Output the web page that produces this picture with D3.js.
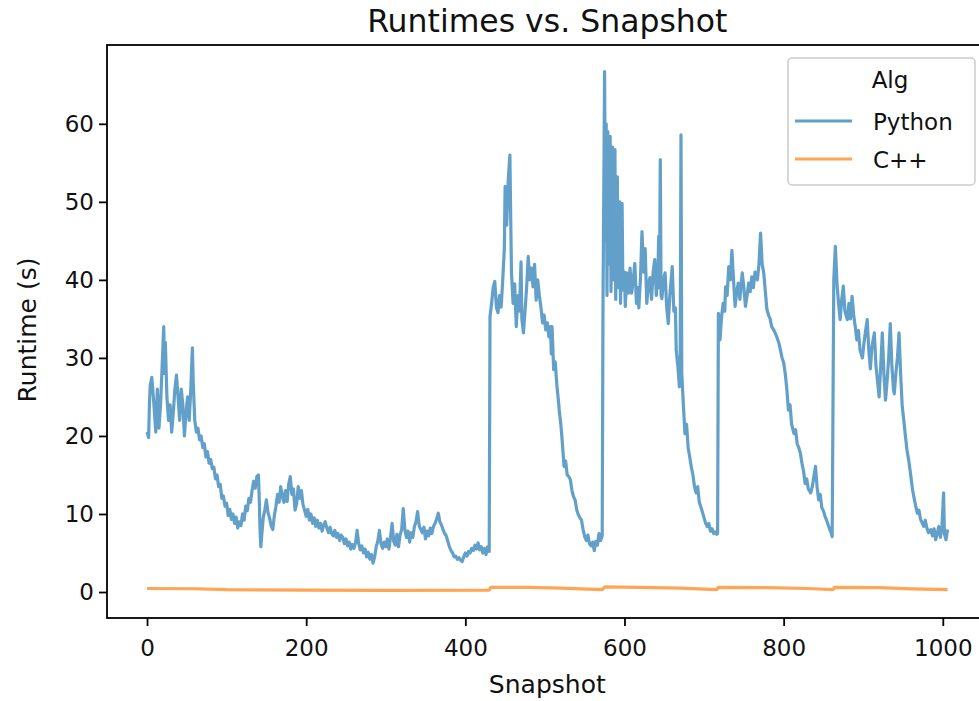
<!DOCTYPE html>
<html>
<head>
<meta charset="utf-8">
<script src="https://cdn.jsdelivr.net/npm/d3@7"></script>
<style>
  html, body { margin: 0; padding: 0; background: #fff; }
  text { font-family: "DejaVu Sans", sans-serif; fill: #111; }
</style>
</head>
<body>
<div id="chart-container"></div>
<script>
// chart texts
const chartTitle = "Runtimes vs. Snapshot";
const xLabel = "Snapshot";
const yLabel = "Runtime (s)";
const legendTitle = "Alg";
const seriesNames = ["Python", "C++"];
const seriesColors = ["#1f77b4", "#ff7f0e"];

const xTicks = [0, 200, 400, 600, 800, 1000];
const yTicks = [0, 10, 20, 30, 40, 50, 60];

// [snapshot, runtime]
const pythonSeries = [
  [0, 20.5], [2, 19.8], [3, 24], [4, 26.5], [6, 27.5], [8, 25], [10, 22], [11, 20.5], [13, 26], [15, 21],
  [17, 24], [19, 29], [21, 34], [22, 28], [23, 32], [25, 25], [27, 22], [29, 24], [31, 20.5], [33, 23],
  [35, 26], [37, 27.8], [39, 25], [41, 22], [43, 26], [45, 24], [47, 20], [49, 23], [51, 25], [53, 22],
  [55, 26], [57, 31.3], [58, 27], [60, 22], [62, 20.5], [64, 21], [66, 19.5], [68, 20], [70, 18.5], [72, 19],
  [74, 17.3], [76, 18], [78, 16.5], [80, 17], [82, 15.8], [84, 16], [86, 14.5], [88, 15], [90, 13.5], [92, 13.8],
  [94, 12], [96, 12.3], [98, 11], [100, 11.4], [102, 9.8], [104, 10.6], [106, 9.3], [108, 10], [110, 8.8], [112, 9.6],
  [114, 8.2], [116, 9], [118, 8.5], [120, 10], [122, 9.2], [124, 11], [126, 10.4], [128, 12], [130, 11.5], [132, 13],
  [134, 14.2], [136, 13.3], [138, 14.8], [140, 15], [141, 12], [142, 8], [143, 5.8], [144, 7], [146, 9.5], [148, 10.5],
  [150, 11.8], [152, 10.2], [154, 9.5], [156, 8.5], [158, 8], [160, 9.8], [162, 11], [164, 12.5], [166, 11.5], [168, 13.5],
  [170, 12.3], [172, 11.5], [174, 13], [176, 11.6], [178, 13.8], [180, 14.8], [182, 12.5], [184, 13.2], [186, 10.5], [188, 11.3],
  [190, 13.5], [192, 12], [194, 13], [196, 11.2], [198, 10.5], [200, 9.7], [202, 10.6], [204, 9.2], [206, 10], [208, 8.8],
  [210, 9.5], [212, 8.4], [214, 9.2], [216, 8.2], [218, 8.8], [220, 7.8], [222, 8.6], [224, 9], [226, 8.2], [228, 7.6],
  [230, 8.3], [232, 7.5], [234, 7.2], [236, 7.9], [238, 7], [240, 7.5], [242, 6.6], [244, 7.3], [246, 7], [248, 6.2],
  [250, 6.8], [252, 5.9], [254, 6.4], [256, 5.5], [258, 6.1], [260, 5.6], [262, 6.3], [264, 7.9], [266, 6.2], [268, 5.4],
  [270, 5.9], [272, 5], [274, 5.5], [276, 4.5], [278, 5.1], [280, 4.2], [282, 4.8], [284, 3.7], [286, 4.5], [288, 5.8],
  [290, 6.5], [292, 7.9], [294, 6.2], [296, 5.6], [298, 6.4], [300, 5.8], [302, 6.8], [304, 5.5], [306, 7], [308, 8.8],
  [310, 6.5], [312, 6], [314, 7.4], [316, 5.8], [318, 7.3], [320, 8], [322, 10.7], [324, 8], [326, 7], [328, 7.8],
  [330, 6.4], [332, 7.6], [334, 7], [336, 8.4], [338, 9], [340, 10.3], [342, 8.5], [344, 8], [346, 7.6], [348, 8.3],
  [350, 6.8], [352, 7.8], [354, 7.2], [356, 8.2], [358, 7.5], [360, 8.4], [362, 8.8], [364, 9.4], [366, 10.1], [368, 9],
  [370, 8.6], [372, 8], [374, 7.5], [376, 7.2], [378, 6.5], [380, 5.8], [382, 5.3], [384, 5], [386, 4.5], [388, 4.6],
  [390, 4.2], [392, 4.4], [394, 4.1], [396, 3.9], [398, 4.5], [400, 5], [402, 4.6], [404, 5.2], [406, 5], [408, 5.6],
  [410, 5.3], [412, 6], [414, 5.5], [416, 6.3], [418, 5.4], [420, 5.8], [422, 5], [424, 5.6], [426, 4.8], [428, 5.8],
  [430, 5.2], [431, 35.3], [433, 37], [435, 39], [437, 39.8], [439, 36.5], [441, 35.8], [443, 38], [445, 36.5], [447, 40],
  [449, 44], [450, 52], [452, 47], [454, 53], [456, 56], [457, 48], [458, 40.9], [460, 37], [462, 39.5], [464, 34],
  [466, 38], [468, 36], [470, 42.3], [471, 35], [473, 33.2], [475, 36], [477, 39], [479, 43], [481, 40], [483, 41.5],
  [485, 39.1], [487, 42], [489, 37.4], [491, 40], [493, 38], [495, 36.5], [497, 34.5], [499, 35.5], [501, 33.6], [503, 34.5],
  [505, 32.7], [507, 34], [508, 30.5], [509, 34], [511, 28.5], [513, 29.5], [515, 26.5], [517, 24.5], [518, 23.3], [520, 21.5],
  [522, 19], [524, 16.1], [526, 16.8], [528, 15], [530, 14.8], [532, 14.4], [534, 13], [536, 12.2], [538, 11.8], [540, 10.5],
  [542, 9.9], [544, 9.5], [546, 9.2], [548, 8], [550, 7.1], [552, 6.6], [554, 7.3], [556, 6.2], [558, 5.9], [560, 6.4],
  [562, 5.3], [564, 6.5], [566, 6], [568, 7.5], [570, 6.6], [572, 7.2], [573, 37], [575, 66.7], [576, 45], [577, 60],
  [578, 38], [579, 59], [580, 42], [582, 58.4], [583, 38.5], [585, 57], [586, 40], [588, 56.7], [589, 37.5], [591, 53.2],
  [592, 39], [594, 50], [595, 37], [597, 49.8], [598, 38.7], [600, 41], [601, 36.6], [603, 40.9], [605, 38.3], [607, 41.5],
  [609, 38.3], [611, 40], [613, 42.1], [615, 37], [617, 39], [618, 36.4], [620, 40], [622, 46.2], [624, 41], [626, 44],
  [628, 37], [630, 39.5], [632, 40.3], [634, 37.5], [636, 41], [638, 42.6], [640, 38], [642, 41], [643, 45.6], [644, 39],
  [645, 55.4], [646, 38], [647, 37.6], [649, 40], [651, 40.9], [653, 36.5], [655, 34.4], [657, 38], [660, 41.7], [662, 36],
  [664, 36.4], [665, 31], [667, 29], [669, 26.3], [670, 30], [671, 58.6], [672, 28], [674, 24], [676, 20.3], [678, 21.5],
  [680, 18.5], [682, 17.3], [684, 16], [686, 15], [688, 13.5], [690, 12.7], [692, 13.5], [694, 11.5], [696, 10.9], [698, 10.2],
  [700, 9.5], [702, 8.8], [704, 8.4], [706, 8.8], [708, 7.8], [710, 8.1], [712, 7.5], [714, 7.7], [716, 7.4], [717, 7.5],
  [718, 35.7], [720, 32.3], [722, 35.3], [724, 37], [726, 36], [727, 39.1], [729, 38], [731, 41.7], [733, 40], [735, 43.8],
  [737, 40], [739, 36.6], [741, 38.5], [743, 39.6], [745, 37.5], [748, 40.9], [750, 39], [752, 36.6], [754, 38], [756, 39.6],
  [758, 38.5], [760, 40.4], [762, 39], [764, 41], [767, 40], [769, 42], [771, 46], [773, 42], [775, 40.9], [777, 38.5],
  [779, 36.2], [781, 35.5], [783, 35], [785, 34], [788, 33.5], [791, 32.8], [794, 31.9], [796, 31], [798, 30], [800, 29.4],
  [802, 28], [804, 26], [806, 23.3], [808, 24], [810, 21.5], [813, 20.3], [815, 20.8], [817, 19], [819, 18.5], [821, 17.8],
  [823, 16.5], [825, 15.5], [827, 13.9], [829, 14.5], [831, 13.2], [834, 12.7], [836, 13.5], [838, 14.8], [840, 16.1], [842, 13.5],
  [844, 11.8], [846, 12.5], [848, 10.8], [850, 10.4], [852, 9.7], [854, 9.2], [856, 8.6], [858, 8], [860, 7.5], [861, 7.1],
  [863, 40], [865, 44.3], [866, 42], [867, 39.6], [869, 37], [871, 34.9], [873, 37.5], [875, 39.2], [877, 36], [880, 34.9],
  [882, 37], [884, 35], [886, 37.9], [888, 35.5], [890, 34], [892, 32.3], [894, 33.5], [896, 31], [899, 30], [901, 32],
  [903, 33.5], [905, 34.9], [907, 31], [909, 28.6], [911, 31.5], [914, 33.2], [916, 29], [918, 27], [920, 25], [922, 29],
  [924, 33.2], [926, 28], [928, 24.6], [930, 27], [932, 30], [934, 34.4], [936, 29], [938, 26], [939, 25.4], [941, 28],
  [943, 30], [945, 33.2], [947, 28], [949, 23.8], [951, 22], [953, 20], [955, 18.2], [957, 17], [959, 15.5], [962, 13.1],
  [964, 12], [966, 11], [968, 10.1], [970, 10.5], [972, 9.3], [974, 8.9], [976, 8.4], [978, 9.2], [980, 8.2], [982, 7.6],
  [985, 8], [987, 7.2], [989, 8.1], [991, 6.7], [993, 7.5], [995, 8.4], [997, 7], [999, 8.5], [1001, 12.7], [1002, 7.5],
  [1004, 6.7], [1006, 8]
];

const cppSeries = [
  [0, 0.45], [60, 0.42], [100, 0.3], [200, 0.25], [300, 0.22], [430, 0.25], [432, 0.6], [480, 0.6], [520, 0.5],
  [572, 0.3], [575, 0.65], [620, 0.6], [670, 0.5], [716, 0.3], [718, 0.6], [780, 0.55], [830, 0.45], [862, 0.3],
  [864, 0.6], [920, 0.55], [960, 0.4], [1006, 0.3]
];

const width = 979;
const height = 701;
const plot = { left: 107, top: 45, right: 987.6, bottom: 618 };

const x = d3.scaleLinear()
    .domain([-50.3, 1056.3])
    .range([plot.left, plot.right]);

const y = d3.scaleLinear()
    .domain([-3.33, 70.1])
    .range([plot.bottom, plot.top]);

const svg = d3.select("#chart-container")
    .append("svg")
    .attr("width", width)
    .attr("height", height)
    .style("display", "block");

svg.append("clipPath")
    .attr("id", "plot-clip")
    .append("rect")
    .attr("x", plot.left)
    .attr("y", plot.top)
    .attr("width", plot.right - plot.left)
    .attr("height", plot.bottom - plot.top);

// lines
const line = d3.line()
    .x(d => x(d[0]))
    .y(d => y(d[1]));

[pythonSeries, cppSeries].forEach((series, i) => {
    svg.append("path")
        .datum(series)
        .attr("clip-path", "url(#plot-clip)")
        .attr("fill", "none")
        .attr("stroke", seriesColors[i])
        .attr("stroke-opacity", 0.7)
        .attr("stroke-width", 3.2)
        .attr("stroke-linejoin", "round")
        .attr("d", line);
});

// axes
const xAxis = svg.append("g")
    .attr("transform", `translate(0,${plot.bottom})`)
    .call(d3.axisBottom(x).tickValues(xTicks).tickFormat(d3.format("d"))
        .tickSizeOuter(0).tickSize(8).tickPadding(14));

const yAxis = svg.append("g")
    .attr("transform", `translate(${plot.left},0)`)
    .call(d3.axisLeft(y).tickValues(yTicks).tickFormat(d3.format("d"))
        .tickSizeOuter(0).tickSize(8).tickPadding(5));

[xAxis, yAxis].forEach(g => {
    g.select(".domain").remove();
    g.selectAll(".tick line").attr("stroke", "#000").attr("stroke-width", 1.8);
    g.selectAll(".tick text")
        .style("font-size", "23px")
        .style("font-family", "DejaVu Sans, sans-serif")
        .attr("fill", "#111");
});

// frame
svg.append("rect")
    .attr("x", plot.left)
    .attr("y", plot.top)
    .attr("width", plot.right - plot.left)
    .attr("height", plot.bottom - plot.top)
    .attr("fill", "none")
    .attr("stroke", "#000")
    .attr("stroke-width", 1.8);

// title and labels
svg.append("text")
    .attr("x", (plot.left + plot.right) / 2)
    .attr("y", 32)
    .style("text-anchor", "middle")
    .style("font-size", "31.5px")
    .text(chartTitle);

svg.append("text")
    .attr("x", (plot.left + plot.right) / 2)
    .attr("y", 693)
    .style("text-anchor", "middle")
    .style("font-size", "25px")
    .text(xLabel);

svg.append("text")
    .attr("transform", "rotate(-90)")
    .attr("x", -330)
    .attr("y", 36)
    .style("text-anchor", "middle")
    .style("font-size", "25px")
    .text(yLabel);

// legend
const legend = svg.append("g");

legend.append("rect")
    .attr("x", 788)
    .attr("y", 58)
    .attr("width", 187)
    .attr("height", 127)
    .attr("rx", 4)
    .attr("fill", "#fff")
    .attr("fill-opacity", 0.8)
    .attr("stroke", "#cccccc")
    .attr("stroke-width", 1.5);

legend.append("text")
    .attr("x", 890)
    .attr("y", 88)
    .style("text-anchor", "middle")
    .style("font-size", "23px")
    .text(legendTitle);

const items = legend.selectAll(".item")
    .data(seriesNames)
    .join("g")
    .attr("class", "item")
    .attr("transform", (d, i) => `translate(0,${121 + i * 38})`);

items.append("line")
    .attr("x1", 795)
    .attr("x2", 852)
    .attr("stroke", (d, i) => seriesColors[i])
    .attr("stroke-opacity", 0.7)
    .attr("stroke-width", 3.2);

items.append("text")
    .attr("x", 873)
    .attr("y", 9)
    .style("font-size", "23px")
    .text(d => d);
</script>
</body>
</html>
